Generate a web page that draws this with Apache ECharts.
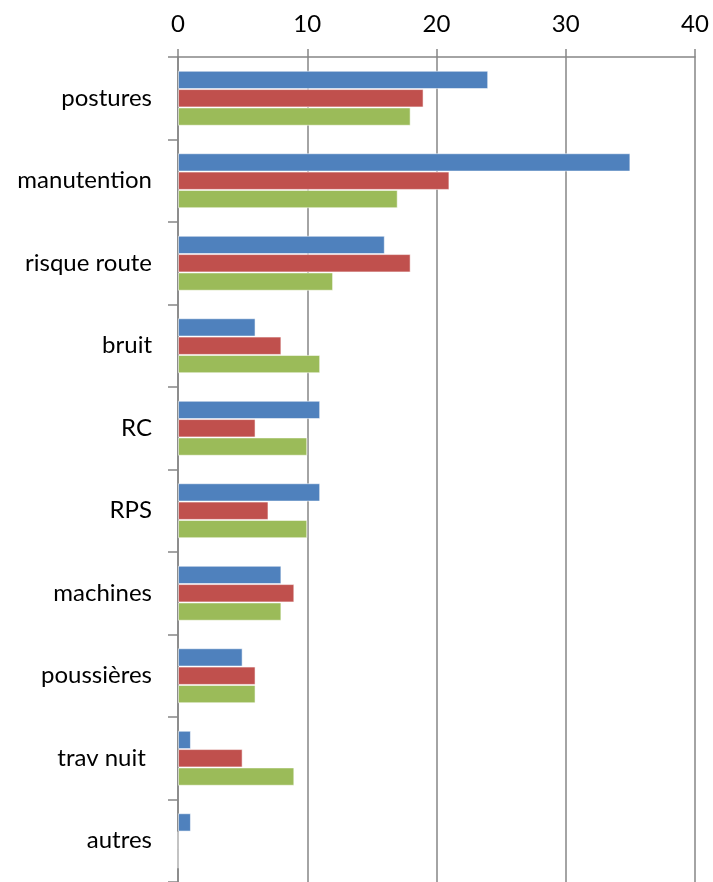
<!DOCTYPE html>
<html>
<head>
<meta charset="utf-8">
<script src="https://cdn.jsdelivr.net/npm/echarts@6/dist/echarts.min.js"></script>
<style>
html,body{margin:0;padding:0;background:#fff;}
#chart{width:713px;height:882px;}
</style>
</head>
<body>
<div id="chart"></div>
<script>
const categories = ['postures','manutention','risque route','bruit','RC','RPS','machines','poussières','trav nuit ','autres'];
const seriesBlue  = [24, 35, 16, 6, 11, 11, 8, 5, 1, 1];
const seriesRed   = [19, 21, 18, 8, 6, 7, 9, 6, 5, 0];
const seriesGreen = [18, 17, 12, 11, 10, 10, 8, 6, 9, 0];
const xTicks = [0, 10, 20, 30, 40];

const FONT = 'Lato';
const chart = echarts.init(document.getElementById('chart'), null, {renderer: 'canvas'});
function bar(name, data, color) {
  return {
    name: name, type: 'bar', data: data,
    barGap: '0%', barCategoryGap: '33.3%',
    itemStyle: {color: color, borderColor: 'rgba(255,255,255,0.55)', borderWidth: 1},
    animation: false
  };
}
chart.setOption({
  animation: false,
  grid: {left: 178, right: 18, top: 57, bottom: 0, containLabel: false},
  xAxis: {
    type: 'value', position: 'top', min: xTicks[0], max: xTicks[xTicks.length-1], interval: 10,
    axisLine: {show: true, lineStyle: {color: '#868686', width: 1.5}},
    axisTick: {show: true, length: 8, lineStyle: {color: '#868686', width: 1.5}},
    splitLine: {show: true, lineStyle: {color: '#868686', width: 1.5}},
    axisLabel: {color: '#000', fontFamily: FONT, fontSize: 24, margin: 21}
  },
  yAxis: {
    type: 'category', data: categories, inverse: true,
    axisLine: {show: true, lineStyle: {color: '#868686', width: 1.5}},
    axisTick: {show: true, length: 10, lineStyle: {color: '#868686', width: 1.5}},
    axisLabel: {color: '#000', fontFamily: FONT, fontSize: 24, margin: 26}
  },
  series: [
    bar('s1', seriesBlue, '#4F81BD'),
    bar('s2', seriesRed, '#C0504D'),
    bar('s3', seriesGreen, '#9BBB59')
  ]
});
</script>
</body>
</html>
